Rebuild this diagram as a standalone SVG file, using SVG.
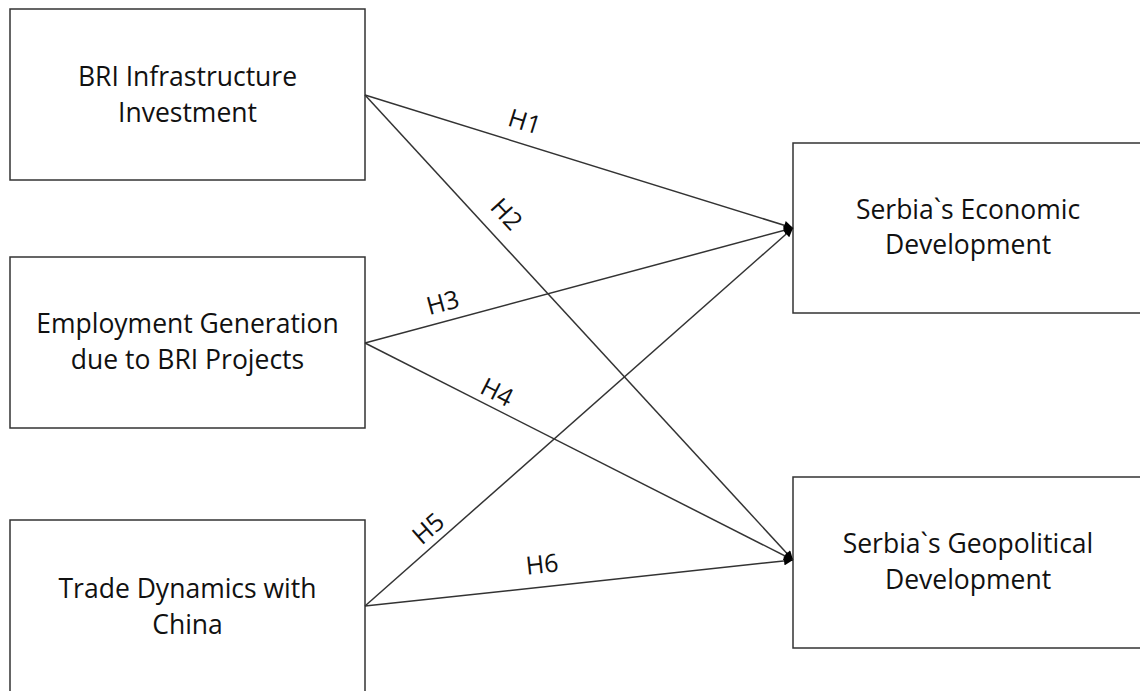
<svg xmlns="http://www.w3.org/2000/svg" width="1140" height="691" viewBox="0 0 1140 691">
<defs>
<style>
.box{fill:#fff;stroke:#333;stroke-width:1.5}
.t{font-family:"Open Sans","Liberation Sans",sans-serif;font-size:26.5px;fill:#111;text-anchor:middle}
.h{font-family:"Open Sans","Liberation Sans",sans-serif;font-size:25px;fill:#111;text-anchor:middle}
.c{stroke:#333;stroke-width:1.5;fill:none;marker-end:url(#ah)}
</style>
<marker id="ah" viewBox="0 0 10 10" refX="10" refY="5" markerWidth="10" markerHeight="9" markerUnits="userSpaceOnUse" orient="auto">
<path d="M0,0 L10,5 L0,10 z" fill="#000"/>
</marker>
</defs>
<rect width="1140" height="691" fill="#fff"/>
<g id="n1"><rect class="box" x="10" y="9" width="355" height="171"/><text class="t" x="187.5" y="86">BRI Infrastructure</text><text class="t" x="187.5" y="122">Investment</text></g>
<g id="n2"><rect class="box" x="10" y="257" width="355" height="171"/><text class="t" x="187.5" y="333">Employment Generation</text><text class="t" x="187.5" y="369">due to BRI Projects</text></g>
<g id="n3"><rect class="box" x="10" y="520" width="355" height="190"/><text class="t" x="187.5" y="598">Trade Dynamics with</text><text class="t" x="187.5" y="634">China</text></g>
<g id="n4"><rect class="box" x="793" y="143" width="360" height="170"/><text class="t" x="968" y="219">Serbia`s Economic</text><text class="t" x="968" y="254">Development</text></g>
<g id="n5"><rect class="box" x="793" y="477" width="360" height="171"/><text class="t" x="968" y="553">Serbia`s Geopolitical</text><text class="t" x="968" y="589">Development</text></g>
<g id="connectors">
<line class="c" x1="365" y1="95" x2="793" y2="228"/>
<line class="c" x1="365" y1="95" x2="793" y2="560"/>
<line class="c" x1="365" y1="343" x2="793" y2="228"/>
<line class="c" x1="365" y1="343" x2="793" y2="560"/>
<line class="c" x1="365" y1="606" x2="793" y2="228"/>
<line class="c" x1="365" y1="606" x2="793" y2="560"/>
<text class="h" transform="translate(522,130) rotate(17.3)">H1</text>
<text class="h" transform="translate(500,220) rotate(47.4)">H2</text>
<text class="h" transform="translate(445,311) rotate(-15)">H3</text>
<text class="h" transform="translate(493,400) rotate(26.9)">H4</text>
<text class="h" transform="translate(434,535) rotate(-41.4)">H5</text>
<text class="h" transform="translate(543,573) rotate(-6.1)">H6</text>
</g>
</svg>
